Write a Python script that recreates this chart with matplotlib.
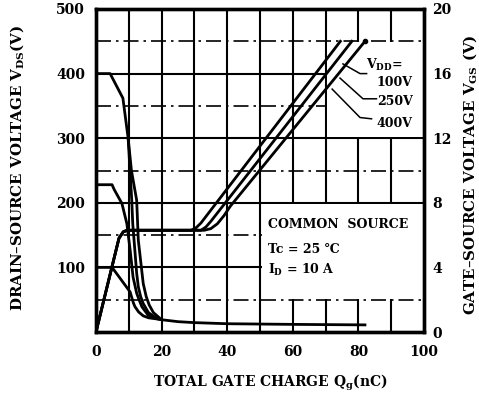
import numpy as np
import matplotlib
matplotlib.use("Agg")
import matplotlib.pyplot as plt
from matplotlib.patches import Rectangle
from matplotlib.ticker import MultipleLocator

plt.rcParams['font.family'] = ['DejaVu Serif', 'DejaVu Sans']
plt.rcParams['font.weight'] = 'bold'
plt.rcParams['mathtext.default'] = 'regular'

# ---- data ----
x_ticks = [0, 20, 40, 60, 80, 100]
vds_ticks = [100, 200, 300, 400, 500]
vgs_ticks = [0, 4, 8, 12, 16, 20]

# shared low tail of VDS curves
tail_q = [20, 25, 30, 40, 60, 82]
tail_v = [19, 16, 14.5, 12.8, 11.8, 11]

vds100_q = [0, 4.9, 7.8, 10.4, 11.4, 11.9, 13, 14.4, 16, 19.5]
vds100_v = [100, 100, 80, 62, 45, 39, 31, 25, 22, 19.5]

vds250_q = [0, 4.9, 5.5, 7.9, 9.4, 10.4, 11.3, 12.4, 13.2, 14, 15.9, 19.5]
vds250_v = [228, 228, 221, 199, 168, 127, 85, 60, 49, 39, 26, 19.5]

vds400a_q = [0, 4.3, 8.2, 9.8, 10.9, 11.2, 12.4, 12.9, 13.6, 14.4, 16, 18.5, 20]
vds400a_v = [400, 400, 362, 300, 204, 168, 91, 70, 55, 44, 30, 21, 19]

vds400b_q = [9.8, 10.8, 12.4, 12.9, 14.4, 15.3, 16.2, 17.5, 20]
vds400b_v = [300, 250, 204, 142, 75, 55, 42, 30, 19]

vgs100_q = [0, 7.0, 8.3, 9.5, 29, 30.5, 32, 74.5]
vgs100_v = [0, 5.8, 6.2, 6.3, 6.3, 6.45, 6.75, 18]

vgs250_q = [0, 7.0, 8.3, 9.5, 32, 33.5, 35, 78]
vgs250_v = [0, 5.8, 6.2, 6.3, 6.3, 6.5, 6.85, 18]

vgs400_q = [0, 7.0, 8.3, 9.5, 33, 35, 37, 39, 41, 82]
vgs400_v = [0, 5.8, 6.2, 6.3, 6.3, 6.4, 6.7, 7.2, 7.8, 18]

vdd_labels = ['100V', '250V', '400V']
label_q = [96.6, 96.6, 96.6]
label_v = [386, 357, 323]
leader_q = [[75.3, 80.5, 82.5], [74.4, 81.4, 85.5], [72.0, 80.5, 84.0]]
leader_v = [[415, 400, 400], [393, 361, 361], [376, 332, 330]]

# ---- figure ----
fig = plt.figure(figsize=(4.79, 4.04), dpi=100)
ax = fig.add_axes([96/479, 72/404, 328/479, 323/404])
ax.set_xlim(0, 100)
ax.set_ylim(0, 500)
ax.set_axisbelow(True)

ax.xaxis.set_major_locator(MultipleLocator(20))
ax.xaxis.set_minor_locator(MultipleLocator(10))
ax.yaxis.set_major_locator(MultipleLocator(100))
ax.yaxis.set_minor_locator(MultipleLocator(50))
ax.set_xticks(x_ticks)
ax.set_xticklabels([str(t) for t in x_ticks])
ax.set_yticks(vds_ticks)
ax.set_yticklabels([str(t) for t in vds_ticks])

ax.xaxis.grid(True, which='both', color='black', lw=1.5, ls='-')
ax.yaxis.grid(True, which='major', color='black', lw=1.5, ls='-')
ax.yaxis.grid(True, which='minor', color='black', lw=1.2, ls=(0, (9, 3, 1.5, 3)))
ax.tick_params(which='both', length=0)
ax.tick_params(axis='x', pad=9, labelsize=10)
ax.tick_params(axis='y', pad=8, labelsize=10)
for s in ax.spines.values():
    s.set_linewidth(2.4)

# white boxes covering grid
ax.add_patch(Rectangle((50.5, 51.5), 49.5, 147, facecolor='white', edgecolor='none', zorder=1))
ax.add_patch(Rectangle((70.5, 301.5), 29.5, 147, facecolor='white', edgecolor='none', zorder=1))

lw = 2.0
for q, v in [(vds100_q, vds100_v), (vds250_q, vds250_v), (vds400a_q, vds400a_v), (vds400b_q, vds400b_v)]:
    ax.plot(q, v, color='black', lw=lw, zorder=3, solid_capstyle='butt')
ax.plot(tail_q, tail_v, color='black', lw=lw, zorder=3)

ax2 = ax.twinx()
ax2.set_ylim(0, 20)
ax2.set_yticks(vgs_ticks)
ax2.set_yticklabels([str(t) for t in vgs_ticks])
ax2.tick_params(length=0, pad=6, labelsize=10)
for s in ax2.spines.values():
    s.set_linewidth(2.4)
for q, v in [(vgs100_q, vgs100_v), (vgs250_q, vgs250_v), (vgs400_q, vgs400_v)]:
    ax2.plot(q, v, color='black', lw=lw, zorder=3)
ax2.plot([vgs400_q[-1]], [vgs400_v[-1]], 'o', color='black', ms=3)

# legend annotations
ax.text(88, 414, r'V$_{DD}$=', ha='center', va='center', fontsize=9, zorder=4)
for lab, lq, lv, ql, vl in zip(vdd_labels, label_q, label_v, leader_q, leader_v):
    ax.text(lq, lv, lab, ha='right', va='center', fontsize=9, zorder=4)
    ax.plot(ql, vl, color='black', lw=1.1, zorder=4)

# condition text
ax.text(52.4, 166, 'COMMON  SOURCE', ha='left', va='center', fontsize=9, zorder=4)
ax.text(52.4, 127, 'Tc = 25 ℃', ha='left', va='center', fontsize=9, zorder=4)
ax.text(52.4, 96, r'I$_D$ = 10 A', ha='left', va='center', fontsize=9, zorder=4)

fig.text(17/479, 1 - 168/404, r'DRAIN–SOURCE VOLTAGE V$_{DS}$(V)', rotation=90,
         ha='center', va='center', fontsize=10.8)
fig.text(470/479, 1 - 175/404, r'GATE–SOURCE VOLTAGE V$_{GS}$ (V)', rotation=90,
         ha='center', va='center', fontsize=10.8)
fig.text(270/479, 1 - 383/404, r'TOTAL GATE CHARGE Q$_g$(nC)',
         ha='center', va='center', fontsize=10)

fig.savefig('out.png', dpi=100)
